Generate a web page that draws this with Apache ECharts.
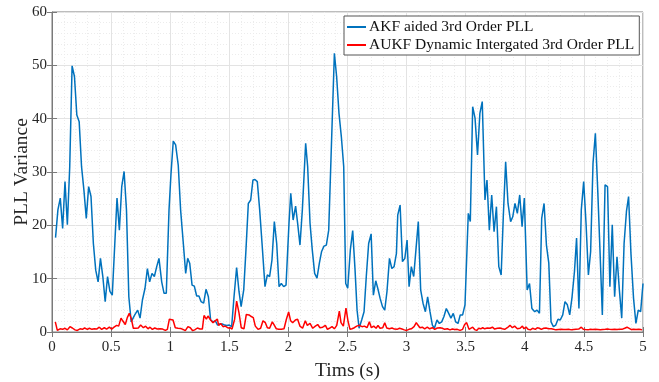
<!DOCTYPE html>
<html>
<head>
<meta charset="utf-8">
<script src="https://cdn.jsdelivr.net/npm/echarts@6/dist/echarts.min.js"></script>
<style>html,body{margin:0;padding:0;background:#fff;}#c{width:659px;height:382px;}</style>
</head>
<body>
<div id="c"></div>
<script>
const seriesNames = ['AKF aided 3rd Order PLL', 'AUKF Dynamic Intergated 3rd Order PLL'];
const xTicks = [0, 0.5, 1, 1.5, 2, 2.5, 3, 3.5, 4, 4.5, 5];
const yTicks = [0, 10, 20, 30, 40, 50, 60];

const akfT = [0.03,0.05,0.07,0.09,0.11,0.13,0.15,0.17,0.19,0.21,0.23,0.25,0.27,0.29,0.31,0.33,0.35,0.37,0.39,0.41,0.43,0.45,0.47,0.49,0.51,0.55,0.57,0.59,0.61,0.63,0.65,0.67,0.70,0.725,0.745,0.765,0.787,0.807,0.826,0.846,0.866,0.886,0.905,0.928,0.948,0.967,0.99,1.007,1.026,1.046,1.068,1.088,1.111,1.131,1.148,1.165,1.185,1.204,1.224,1.243,1.261,1.283,1.303,1.323,1.342,1.362,1.382,1.401,1.42,1.441,1.46,1.48,1.50,1.52,1.54,1.562,1.582,1.60,1.622,1.641,1.661,1.681,1.70,1.717,1.737,1.757,1.777,1.802,1.822,1.841,1.861,1.881,1.901,1.921,1.94,1.96,1.98,2.005,2.02,2.04,2.061,2.078,2.098,2.118,2.146,2.163,2.183,2.202,2.222,2.242,2.262,2.281,2.301,2.321,2.341,2.36,2.389,2.408,2.428,2.448,2.468,2.485,2.502,2.524,2.544,2.564,2.581,2.598,2.62,2.64,2.659,2.679,2.70,2.719,2.739,2.756,2.776,2.796,2.815,2.834,2.855,2.875,2.894,2.914,2.925,2.945,2.965,2.985,3.004,3.021,3.04,3.06,3.079,3.099,3.119,3.139,3.159,3.178,3.198,3.218,3.235,3.257,3.277,3.297,3.316,3.336,3.356,3.375,3.395,3.415,3.435,3.454,3.474,3.494,3.522,3.539,3.559,3.579,3.60,3.62,3.64,3.663,3.68,3.70,3.72,3.74,3.76,3.78,3.80,3.818,3.838,3.858,3.88,3.898,3.917,3.937,3.957,3.977,3.996,4.02,4.04,4.06,4.084,4.104,4.124,4.143,4.163,4.183,4.203,4.222,4.242,4.262,4.281,4.30,4.321,4.34,4.36,4.38,4.40,4.42,4.438,4.458,4.478,4.498,4.518,4.538,4.557,4.577,4.597,4.617,4.636,4.656,4.679,4.70,4.72,4.74,4.76,4.78,4.80,4.82,4.84,4.86,4.878,4.898,4.92,4.94,4.96,4.98,5.0];
const akfV = [17.7,22.9,25.1,19.4,28.2,20.1,31.0,49.9,47.9,40.7,39.4,31.0,26.6,21.3,27.25,25.4,16.6,11.6,9.4,13.8,10.4,5.7,10.4,7.6,6.9,25.1,19.1,27.25,30.1,22.9,6.6,1.9,3.2,4.1,2.6,6.0,8.2,11.9,9.4,11.0,10.4,12.25,13.8,9.4,7.25,7.25,22.9,29.75,35.8,35.1,31.3,22.9,16.6,11.0,13.8,12.9,8.8,8.6,6.75,6.75,5.7,5.4,8.0,6.6,2.25,1.9,2.1,1.3,1.5,1.5,1.3,1.2,1.3,1.0,6.6,12.1,7.6,4.75,7.9,15.4,24.1,24.75,28.5,28.6,28.2,22.9,16.6,8.5,10.7,10.4,13.5,20.7,16.6,8.5,9.1,8.5,8.8,20.4,26.0,21.0,23.6,20.4,16.3,22.9,35.4,31.0,20.4,15.4,11.0,10.1,12.9,15.1,16.1,16.3,19.1,32.25,52.25,47.9,41.0,36.6,31.0,9.1,8.2,15.4,19.0,11.6,4.1,0.7,2.25,3.8,10.4,16.6,18.4,6.9,9.6,8.2,6.3,4.75,4.1,7.6,13.8,11.9,12.25,14.75,21.9,23.8,13.2,13.8,17.25,8.5,12.25,10.4,15.4,20.7,7.9,5.4,3.8,6.6,3.8,1.3,0.7,2.25,1.6,1.9,2.9,4.4,3.5,2.6,3.5,1.9,1.6,3.2,3.2,5.1,22.25,20.7,42.25,40.1,33.2,41.0,43.2,24.75,28.5,19.1,25.7,18.8,23.5,12.25,10.7,21.6,31.9,24.1,20.7,21.6,24.1,22.25,25.7,19.75,25.1,7.9,9.1,4.4,3.8,4.1,3.5,21.3,24.1,16.3,12.9,1.9,1.0,1.3,2.4,2.25,3.2,5.7,5.1,3.2,6.6,11.3,17.6,4.4,22.9,28.2,20.4,10.7,15.1,31.6,37.25,26.6,15.4,3.2,27.6,27.25,8.5,20.1,6.6,14.1,7.9,2.6,16.6,22.6,25.4,14.75,6.3,1.6,4.1,3.8,9.1];

const aukfT = [0.028,0.045,0.068,0.09,0.11,0.13,0.152,0.172,0.195,0.214,0.237,0.257,0.276,0.299,0.316,0.338,0.358,0.378,0.40,0.42,0.443,0.462,0.485,0.505,0.525,0.547,0.564,0.584,0.598,0.62,0.637,0.654,0.671,0.688,0.711,0.73,0.75,0.773,0.792,0.812,0.829,0.849,0.869,0.891,0.914,0.936,0.959,0.976,0.993,1.008,1.024,1.043,1.066,1.089,1.108,1.128,1.15,1.17,1.19,1.207,1.23,1.252,1.272,1.286,1.306,1.32,1.342,1.362,1.376,1.399,1.41,1.427,1.447,1.466,1.489,1.506,1.523,1.545,1.562,1.582,1.601,1.624,1.644,1.667,1.686,1.703,1.72,1.743,1.765,1.785,1.805,1.822,1.841,1.864,1.878,1.898,1.918,1.94,1.963,1.983,2.002,2.019,2.036,2.059,2.078,2.098,2.12,2.143,2.16,2.183,2.206,2.228,2.248,2.267,2.29,2.313,2.33,2.347,2.369,2.389,2.409,2.431,2.445,2.465,2.487,2.504,2.521,2.538,2.558,2.578,2.60,2.623,2.643,2.665,2.685,2.702,2.722,2.742,2.758,2.775,2.798,2.815,2.832,2.854,2.877,2.897,2.919,2.94,2.961,2.981,3.0,3.02,3.04,3.063,3.082,3.097,3.113,3.133,3.153,3.175,3.195,3.218,3.238,3.26,3.283,3.302,3.322,3.345,3.367,3.387,3.407,3.429,3.452,3.474,3.491,3.508,3.528,3.542,3.559,3.576,3.593,3.61,3.627,3.644,3.661,3.683,3.706,3.726,3.745,3.768,3.79,3.81,3.83,3.852,3.875,3.895,3.914,3.937,3.96,3.98,3.993,4.01,4.027,4.047,4.066,4.089,4.106,4.123,4.14,4.16,4.179,4.202,4.225,4.244,4.264,4.286,4.309,4.329,4.349,4.371,4.394,4.413,4.433,4.456,4.478,4.495,4.512,4.535,4.554,4.574,4.596,4.619,4.639,4.659,4.681,4.698,4.715,4.738,4.76,4.78,4.80,4.822,4.845,4.865,4.879,4.902,4.921,4.941,4.964,4.981,4.992];
const aukfV = [1.9,0.3,0.6,0.5,0.7,0.4,1.0,0.75,0.4,0.3,0.6,0.5,0.75,0.5,0.7,0.5,0.6,0.55,0.9,0.5,0.8,0.55,0.9,0.55,0.9,1.25,1.1,2.6,2.1,1.4,2.7,3.5,2.5,0.7,0.7,0.75,1.3,0.8,1.1,0.6,0.9,0.5,0.75,0.55,0.6,0.55,0.3,0.5,2.4,2.5,2.25,0.8,0.7,0.65,0.5,0.25,1.0,0.8,0.25,0.4,0.75,0.55,0.55,3.1,2.4,3.0,2.25,1.75,2.0,2.4,1.25,1.6,1.0,1.1,0.75,0.8,0.55,2.4,5.8,3.6,0.8,0.6,3.3,3.2,2.9,2.7,1.1,0.5,0.7,2.1,1.75,0.8,0.7,1.9,1.4,0.6,0.5,0.5,0.6,2.4,3.75,2.1,1.75,2.25,2.4,1.1,0.7,2.1,1.25,1.6,0.7,1.1,1.4,0.8,0.9,1.25,0.5,0.7,1.0,0.6,1.25,3.9,1.75,1.1,4.5,2.1,0.5,0.6,0.8,1.1,1.25,1.0,1.1,0.8,1.9,0.8,1.1,0.7,1.25,0.7,0.8,1.75,0.75,0.6,0.75,0.55,0.5,0.7,0.55,0.4,0.3,0.5,0.6,1.0,1.75,1.25,0.8,0.9,0.6,0.9,0.6,0.8,0.5,0.75,0.8,0.7,0.5,0.6,0.4,0.55,0.45,0.5,0.3,0.5,1.4,1.75,0.5,0.8,0.9,0.45,0.3,0.7,0.6,0.8,0.6,0.75,0.7,0.9,0.55,0.7,0.75,0.6,0.5,0.8,1.25,0.8,1.1,0.6,0.7,1.1,0.6,0.95,0.5,0.4,0.7,0.5,0.8,0.7,0.5,0.7,0.75,0.6,0.6,0.5,0.4,0.45,0.5,0.45,0.45,0.5,0.4,0.45,0.5,0.55,0.9,0.5,0.45,0.4,0.5,0.45,0.5,0.45,0.4,0.45,0.5,0.55,0.5,0.45,0.5,0.45,0.5,0.5,0.7,0.9,0.55,0.45,0.5,0.45,0.5,0.45,0.4];

const akfData = akfT.map((t, i) => [t, akfV[i]]);
const aukfData = aukfT.map((t, i) => [t, aukfV[i]]);

const FONT = 'Liberation Serif';
const chart = echarts.init(document.getElementById('c'), null, {renderer: 'canvas'});
const axisCommon = {
  axisLine: {show: true, onZero: false, lineStyle: {color: '#7a7a7a', width: 1}},
  axisTick: {show: true, inside: true, length: 5, lineStyle: {color: '#7a7a7a'}},
  splitLine: {show: true, lineStyle: {color: '#e3e3e3', width: 1}},
  minorTick: {show: false, splitNumber: 5},
  minorSplitLine: {show: true, lineStyle: {color: '#ececec', type: [1, 2], width: 1}},
  axisLabel: {color: '#262626', fontFamily: FONT, fontSize: 15}
};
chart.setOption({
  animation: false,
  backgroundColor: '#ffffff',
  grid: {left: 52, right: 16, top: 12, bottom: 50, containLabel: false, outerBoundsMode: 'none',
         show: true, borderColor: '#7a7a7a', borderWidth: 1, backgroundColor: 'transparent'},
  legend: {
    orient: 'vertical', left: 344, top: 16,
    backgroundColor: '#ffffff', borderColor: '#555', borderWidth: 1,
    padding: [3, 5, 2, 3], itemGap: 2,
    itemWidth: 19, itemHeight: 2, icon: 'rect',
    textStyle: {fontFamily: FONT, fontSize: 15.5, color: '#111', lineHeight: 16, padding: [0, 0, 0, -2]},
    data: seriesNames
  },
  xAxis: [Object.assign({}, axisCommon, {
    type: 'value', min: 0, max: 5, interval: 0.5,
    name: 'Tims (s)', nameLocation: 'middle', nameGap: 29,
    nameTextStyle: {fontFamily: FONT, fontSize: 19.5, color: '#262626'},
    axisLabel: Object.assign({}, axisCommon.axisLabel, {margin: 8, formatter: v => xTicks.includes(v) ? String(v) : ''})
  }), {
    type: 'value', position: 'top', min: 0, max: 5, interval: 0.5,
    axisLine: {show: false}, axisLabel: {show: false}, splitLine: {show: false},
    axisTick: {show: true, inside: true, length: 5, lineStyle: {color: '#7a7a7a'}}
  }],
  yAxis: [Object.assign({}, axisCommon, {
    type: 'value', min: 0, max: 60, interval: 10,
    name: 'PLL Variance', nameLocation: 'middle', nameGap: 20, nameMoveOverlap: false,
    nameTextStyle: {fontFamily: FONT, fontSize: 19.5, color: '#262626'},
    axisLabel: Object.assign({}, axisCommon.axisLabel, {margin: 5, formatter: v => yTicks.includes(v) ? String(v) : ''})
  }), {
    type: 'value', position: 'right', min: 0, max: 60, interval: 10,
    axisLine: {show: false}, axisLabel: {show: false}, splitLine: {show: false},
    axisTick: {show: true, inside: true, length: 5, lineStyle: {color: '#7a7a7a'}}
  }],
  series: [
    {name: seriesNames[0], type: 'line', data: akfData, showSymbol: false, symbol: 'none',
     lineStyle: {color: '#0072BD', width: 1.5}, itemStyle: {color: '#0072BD'}, z: 3},
    {name: seriesNames[1], type: 'line', data: aukfData, showSymbol: false, symbol: 'none',
     lineStyle: {color: '#FF0000', width: 1.5}, itemStyle: {color: '#FF0000'}, z: 4}
  ]
});
</script>
</body>
</html>
